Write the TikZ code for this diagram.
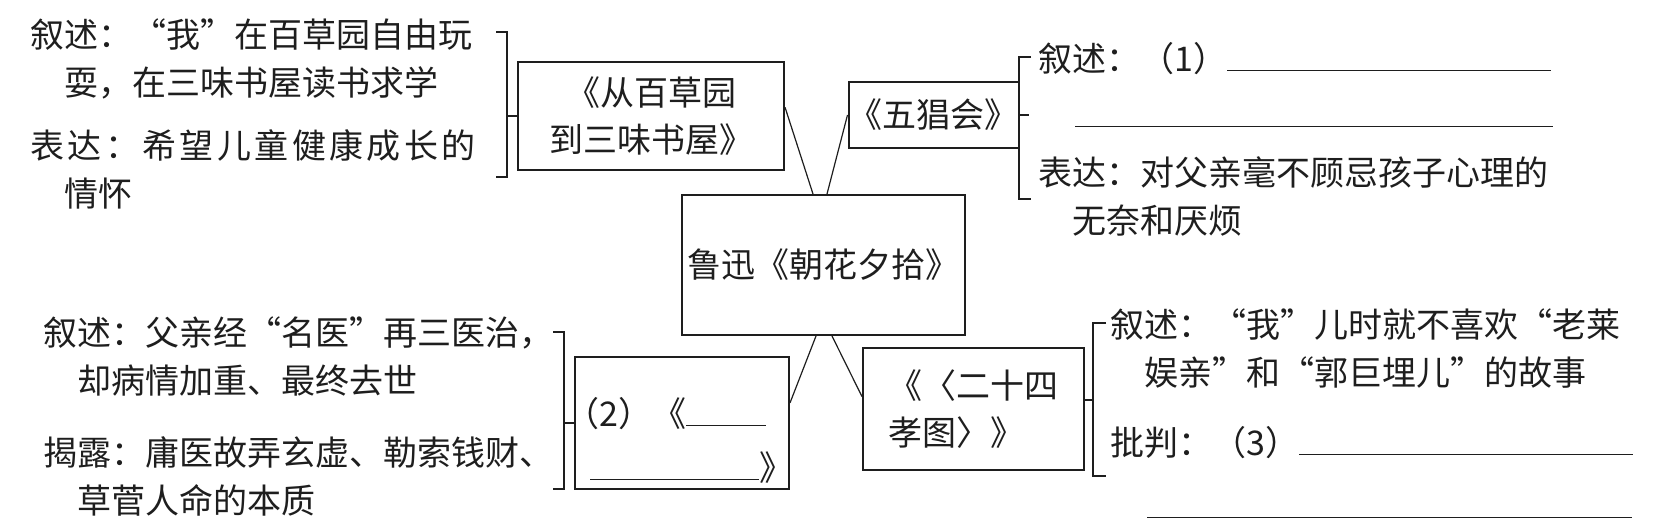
\documentclass[tikz,border=0pt]{standalone}
\usepackage{fontspec}
\setmainfont{Noto Sans CJK SC}
\usepackage{tikz}
\usetikzlibrary{positioning,calc}
\definecolor{Ink}{HTML}{1E1E1E}
\newcommand\answerline[1]{\rule{#1}{0.6pt}}
\tikzset{
  book/.style={
    draw=Ink,line width=1pt,inner sep=0pt,align=center,
    font=\fontsize{17}{23.5}\selectfont,text=Ink
  },
  note/.style={
    anchor=base west,inner sep=0pt,align=left,
    font=\fontsize{17}{24}\selectfont,text=Ink
  },
  link/.style={draw=Ink,line width=.6pt},
  brace/.style={draw=Ink,line width=.9pt}
}

\begin{document}
\begin{tikzpicture}[x=0.5pt,y=-0.5pt]
  \useasboundingbox (0,0) rectangle (1666,530);
  \node[book,minimum width=141.5pt,minimum height=70pt] (root) at (823.5,265)
    {鲁迅《朝花夕拾》};
  \node[book,minimum width=133pt,minimum height=54pt] (cao) at (651,116)
    {《从百草园\\到三味书屋》};
  \node[book,minimum width=76.5pt,minimum height=33pt] (wu) at (933.5,115)
    {《五猖会》};
  \node[book,minimum width=107pt,minimum height=66pt] (yi) at (682,423) {};
  \node[note,font=\fontsize{17}{27}\selectfont] (yitext) at (565,480)
    {（2）《\answerline{40pt}\\\hspace*{12.5pt}\answerline{84.5pt}》};
  \node[book,align=left,minimum width=110.5pt,minimum height=61pt] (xiao)
    at (973.5,409) {《〈二十四\\孝图〉》};

  \coordinate (topL) at ([xshift=-5.25pt]root.north);
  \coordinate (topR) at ([xshift=1.75pt]root.north);
  \coordinate (botL) at ([xshift=-3.75pt]root.south);
  \coordinate (botR) at ([xshift=4.25pt]root.south);
  \draw[link] ($(cao.north east)!.42!(cao.south east)$) -- (topL);
  \draw[link] (wu.west) -- (topR);
  \draw[link] ($(yi.north east)!.35!(yi.south east)$) -- (botL);
  \draw[link] ($(xiao.north west)!.4!(xiao.south west)$) -- (botR);

  \draw[brace] (cao.west) -- ++(-11,0);
  \draw[brace] (496,32) -| (507,177) -- (496,177);
  \draw[brace] (wu.east) -- ++(9,0);
  \draw[brace] (1031,57) -| (1019,199) -- (1031,199);
  \draw[brace] (yi.west) -- ++(-11,0);
  \draw[brace] (553,332) -| (564,489) -- (553,489);
  \draw[brace] ($(xiao.north east)!.43!(xiao.south east)$) -- ++(9,0);
  \draw[brace] (1106,323) -| (1093,476) -- (1106,476);

  \node[note] (caoA) at (30,95)
    {叙述：“我”在百草园自由玩\\\hspace*{1em}耍，在三味书屋读书求学};
  \node[note] (caoB) at (30,206)
    {{\addfontfeature{LetterSpace=10}表达：希望儿童健康成长的}\\\hspace*{1em}情怀};
  \node[note,font=\fontsize{17}{28}\selectfont] (wuA) at (1038,127)
    {叙述：（1）\answerline{162pt}\\\hspace*{18.5pt}\answerline{239pt}};
  \node[note] (wuB) at (1038,233)
    {表达：对父亲毫不顾忌孩子心理的\\\hspace*{1em}无奈和厌烦};
  \node[note] (yiA) at (43,393)
    {叙述：父亲经“名医”再三医治，\\\hspace*{1em}却病情加重、最终去世};
  \node[note] (yiB) at (43,513)
    {揭露：庸医故弄玄虚、勒索钱财、\\\hspace*{1em}草菅人命的本质};
  \node[note] (xiaoA) at (1110,385)
    {叙述：“我”儿时就不喜欢“老莱\\\hspace*{1em}娱亲”和“郭巨埋儿”的故事};
  \node[note,font=\fontsize{17}{31.5}\selectfont] (xiaoB) at (1110,518)
    {批判：（3）\answerline{167pt}\\\hspace*{18.5pt}\answerline{242.5pt}};
\end{tikzpicture}
\end{document}
